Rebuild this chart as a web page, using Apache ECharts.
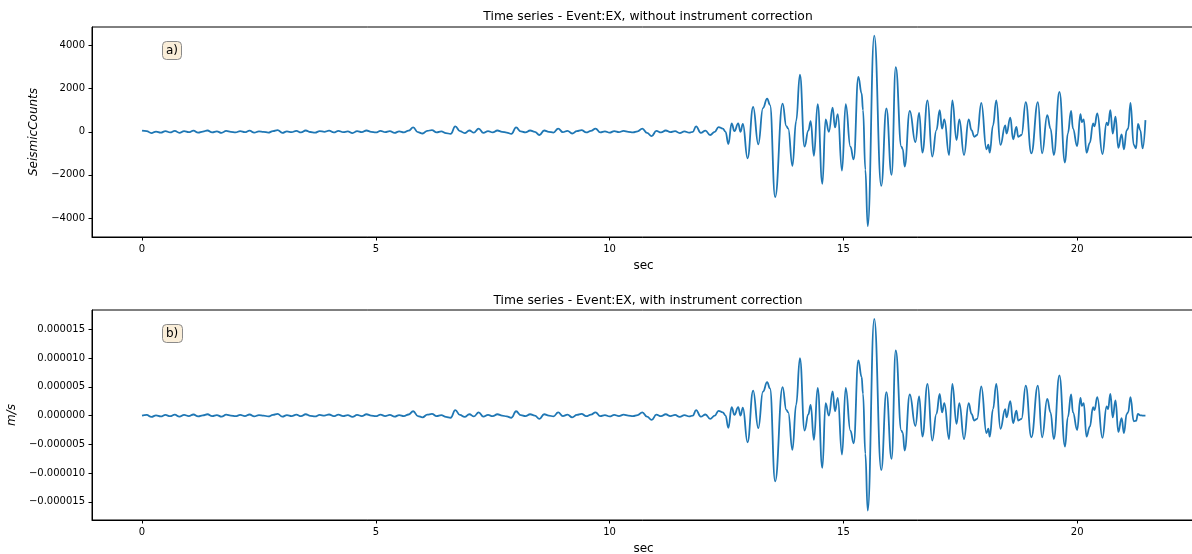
<!DOCTYPE html>
<html>
<head>
<meta charset="utf-8">
<script src="https://cdn.jsdelivr.net/npm/echarts@6/dist/echarts.min.js"></script>
<style>
html,body{margin:0;padding:0;background:#fff;}
#chart{width:1192px;height:554px;}
</style>
</head>
<body>
<div id="chart"></div>
<script>
// ---- DATA ----
const titleA = 'Time series - Event:EX, without instrument correction';
const titleB = 'Time series - Event:EX, with instrument correction';
const xTicks = [0, 5, 10, 15, 20];
const yTicksA = [-4000, -2000, 0, 2000, 4000];
const yTicksB = [-15e-6, -10e-6, -5e-6, 0, 5e-6, 10e-6, 15e-6];

const timeSec = [
  0.0,0.1,0.2,0.3,0.4,0.5,0.6,0.7,0.8,0.9,
  1.0,1.1,1.2,1.3,1.4,1.5,1.6,1.7,1.8,1.9,
  2.0,2.1,2.2,2.3,2.4,2.5,2.6,2.7,2.8,2.9,
  3.0,3.1,3.2,3.3,3.4,3.5,3.6,3.7,3.8,3.9,
  4.0,4.1,4.2,4.3,4.4,4.5,4.6,4.7,4.8,4.9,
  5.0,5.1,5.2,5.3,5.4,5.5,5.6,5.7,5.8,5.9,
  6.0,6.1,6.2,6.3,6.4,6.5,6.6,6.7,6.8,6.9,
  7.0,7.1,7.2,7.3,7.4,7.5,7.6,7.7,7.8,7.9,
  8.0,8.1,8.2,8.3,8.4,8.5,8.6,8.7,8.8,8.9,
  9.0,9.1,9.2,9.3,9.4,9.5,9.6,9.7,9.8,9.9,
  10.0,10.1,10.2,10.3,10.4,10.5,10.6,10.7,10.8,10.9,
  11.0,11.1,11.2,11.3,11.4,11.5,11.6,11.7,11.78,11.85,11.95,
  12.05,12.15,12.25,12.33,12.42,12.48,
  12.54,12.61,12.67,12.75,12.80,12.85,12.95,13.07,13.18,13.28,
  13.37,13.43,13.54,13.70,13.78,13.82,13.91,13.99,14.07,14.17,
  14.25,14.30,14.37,14.45,14.55,14.62,14.69,14.77,14.82,14.88,
  14.97,15.05,15.15,15.22,15.32,15.39,15.42,15.47,15.52,15.66,
  15.81,15.92,16.03,16.12,16.24,16.27,16.31,16.42,16.54,16.62,
  16.69,16.80,16.90,16.99,17.06,17.11,17.16,17.26,17.33,17.42,
  17.48,17.58,17.68,17.74,17.80,17.86,17.95,18.06,18.10,18.13,
  18.20,18.27,18.36,18.46,18.49,18.57,18.63,18.70,18.74,18.81,
  18.90,19.02,19.16,19.25,19.36,19.43,19.50,19.62,19.74,19.80,
  19.87,19.91,20.00,20.07,20.10,20.14,20.20,20.27,20.34,20.37,
  20.43,20.54,20.63,20.66,20.71,20.76,20.82,20.88,20.95,21.00,
  21.06,21.09,21.14,21.21,21.26,21.30,21.35,21.40,21.46
];

const seismicCounts = [
  50,30,-60,10,-40,30,-30,40,-50,30,
  -20,50,-40,10,60,-30,20,-50,40,0,
  -30,30,-20,50,-40,20,0,-40,30,80,
  -50,20,-20,40,-30,60,-10,-40,30,0,
  50,-30,40,-20,20,-60,30,-20,60,0,
  -30,40,-20,30,-50,20,-30,50,200,-20,
  -80,40,80,-30,20,-60,-100,250,30,-60,
  60,-40,150,-50,30,-30,60,0,-40,-100,
  200,20,-30,60,0,-150,60,0,-40,150,
  -20,40,-80,30,80,-30,40,150,-30,20,
  -40,30,-20,40,0,-30,20,150,-50,-200,
  40,-30,60,-20,30,-60,20,-40,0,250,-50,
  50,-150,0,220,150,0,
  -570,390,30,390,0,360,-1230,1150,-580,1100,
  1540,1250,-3030,1310,260,150,-1580,500,2650,-690,
  50,490,-1120,1280,-2410,570,0,1120,200,820,
  -1800,1280,-690,-1280,2540,1780,1000,-1770,-4380,4460,
  -2510,1080,-2000,3000,-690,-800,-1610,970,-480,880,
  -970,1460,-1150,80,1000,150,570,-1080,1460,-380,
  570,-1080,570,80,-230,-150,1340,-810,-600,-970,
  300,1460,-610,300,-80,660,-350,230,-230,-150,
  1380,-1000,1380,-1000,770,150,-1080,1850,-1430,-80,
  970,150,-660,820,450,570,-970,-510,390,250,
  850,-1030,420,300,1000,-80,700,-750,-120,-810,
  80,150,1340,-610,-770,360,80,-770,540
];

const velocityMps = [
  0,0.11e-6,-0.23e-6,0.04e-6,-0.15e-6,0.11e-6,-0.11e-6,0.15e-6,-0.19e-6,0.11e-6,
  -0.08e-6,0.19e-6,-0.15e-6,0.04e-6,0.23e-6,-0.11e-6,0.08e-6,-0.19e-6,0.15e-6,0,
  -0.11e-6,0.11e-6,-0.08e-6,0.19e-6,-0.15e-6,0.08e-6,0,-0.15e-6,0.11e-6,0.3e-6,
  -0.19e-6,0.08e-6,-0.08e-6,0.15e-6,-0.11e-6,0.23e-6,-0.04e-6,-0.15e-6,0.11e-6,0,
  0.19e-6,-0.11e-6,0.15e-6,-0.08e-6,0.08e-6,-0.23e-6,0.11e-6,-0.08e-6,0.23e-6,0,
  -0.11e-6,0.15e-6,-0.08e-6,0.11e-6,-0.19e-6,0.08e-6,-0.11e-6,0.19e-6,0.75e-6,-0.08e-6,
  -0.3e-6,0.15e-6,0.3e-6,-0.11e-6,0.08e-6,-0.23e-6,-0.38e-6,0.94e-6,0.11e-6,-0.23e-6,
  0.23e-6,-0.15e-6,0.57e-6,-0.19e-6,0.11e-6,-0.11e-6,0.23e-6,0,-0.15e-6,-0.38e-6,
  0.75e-6,0.08e-6,-0.11e-6,0.23e-6,0,-0.57e-6,0.23e-6,0,-0.15e-6,0.57e-6,
  -0.08e-6,0.15e-6,-0.3e-6,0.11e-6,0.3e-6,-0.11e-6,0.15e-6,0.57e-6,-0.11e-6,0.08e-6,
  -0.15e-6,0.11e-6,-0.08e-6,0.15e-6,0,-0.11e-6,0.08e-6,0.57e-6,-0.19e-6,-0.75e-6,
  0.15e-6,-0.11e-6,0.23e-6,-0.08e-6,0.11e-6,-0.23e-6,0.08e-6,-0.15e-6,0,0.94e-6,-0.19e-6,
  0.19e-6,-0.57e-6,0,0.83e-6,0.57e-6,0,
  -2.15e-6,1.47e-6,0.11e-6,1.47e-6,0,1.36e-6,-4.64e-6,4.34e-6,-2.19e-6,4.15e-6,
  5.81e-6,4.71e-6,-11.42e-6,4.94e-6,0.98e-6,0.57e-6,-5.96e-6,1.89e-6,9.99e-6,-2.6e-6,
  0.19e-6,1.85e-6,-4.22e-6,4.83e-6,-9.09e-6,2.15e-6,0,4.22e-6,0.75e-6,3.09e-6,
  -6.79e-6,4.83e-6,-2.6e-6,-4.83e-6,9.58e-6,6.71e-6,3.77e-6,-6.67e-6,-16.51e-6,16.81e-6,
  -9.46e-6,4.07e-6,-7.54e-6,11.31e-6,-2.6e-6,-3.02e-6,-6.07e-6,3.66e-6,-1.81e-6,3.32e-6,
  -3.66e-6,5.5e-6,-4.34e-6,0.3e-6,3.77e-6,0.57e-6,2.15e-6,-4.07e-6,5.5e-6,-1.43e-6,
  2.15e-6,-4.07e-6,2.15e-6,0.3e-6,-0.87e-6,-0.57e-6,5.05e-6,-3.05e-6,-2.26e-6,-3.66e-6,
  1.13e-6,5.5e-6,-2.3e-6,1.13e-6,-0.3e-6,2.49e-6,-1.32e-6,0.87e-6,-0.87e-6,-0.57e-6,
  5.2e-6,-3.77e-6,5.2e-6,-3.77e-6,2.9e-6,0.57e-6,-4.07e-6,6.97e-6,-5.39e-6,-0.3e-6,
  3.66e-6,0.57e-6,-2.49e-6,3.09e-6,1.7e-6,2.15e-6,-3.66e-6,-1.92e-6,1.47e-6,0.94e-6,
  3.2e-6,-3.88e-6,1.58e-6,1.13e-6,3.77e-6,-0.3e-6,2.64e-6,-2.83e-6,-0.45e-6,-3.05e-6,
  0.3e-6,0.57e-6,3.2e-6,-1.0e-6,-0.9e-6,0.3e-6,0.05e-6,0,0
];

// ---- CHART ----
if (timeSec.length !== seismicCounts.length || timeSec.length !== velocityMps.length) {
  console.error('length mismatch', timeSec.length, seismicCounts.length, velocityMps.length);
}
const FONT = 'DejaVu Sans';
const minus = s => String(s).replace('-', '\u2212');
const pairsA = timeSec.map((t, i) => [t, seismicCounts[i]]);
const pairsB = timeSec.map((t, i) => [t, velocityMps[i]]);

function xAxisFor(gi) {
  return {
    type: 'value', gridIndex: gi, min: -1.07, max: 22.52,
    name: 'sec', nameLocation: 'middle', nameGap: 23,
    nameTextStyle: { fontFamily: FONT, fontSize: 12, color: '#000' },
    axisLine: { show: true, onZero: false, lineStyle: { color: '#000', width: 1 } },
    axisTick: { show: true, length: 3.5, lineStyle: { color: '#000' }, customValues: xTicks },
    axisLabel: { show: true, margin: 7, fontFamily: FONT, fontSize: 10, color: '#000', customValues: xTicks, formatter: v => minus(v) },
    splitLine: { show: false }
  };
}

const boxStyle = {
  padding: [4, 4, 3, 4], backgroundColor: '#faeed9', borderColor: '#8a8a8a', borderWidth: 1, borderRadius: 4,
  textStyle: { fontFamily: FONT, fontSize: 12, fontWeight: 'normal', color: '#000' }
};

const option = {
  animation: false,
  backgroundColor: '#fff',
  title: [
    { text: titleA, left: 643, top: 6, textAlign: 'center', textStyle: { fontFamily: FONT, fontSize: 12.3, fontWeight: 'normal', color: '#000' } },
    { text: titleB, left: 643, top: 290, textAlign: 'center', textStyle: { fontFamily: FONT, fontSize: 12.3, fontWeight: 'normal', color: '#000' } },
    Object.assign({ text: 'a)', left: 162, top: 41 }, boxStyle),
    Object.assign({ text: 'b)', left: 162, top: 324 }, boxStyle)
  ],
  grid: [
    { left: 92, right: -3, top: 27, height: 210, show: true, borderColor: '#000', borderWidth: 1, backgroundColor: 'transparent', containLabel: false, outerBoundsMode: 'none' },
    { left: 92, right: -3, top: 310, height: 210, show: true, borderColor: '#000', borderWidth: 1, backgroundColor: 'transparent', containLabel: false, outerBoundsMode: 'none' }
  ],
  xAxis: [xAxisFor(0), xAxisFor(1)],
  yAxis: [
    {
      type: 'value', gridIndex: 0, min: -4880, max: 4860,
      name: 'SeismicCounts', nameLocation: 'middle', nameGap: 44,
      nameTextStyle: { fontFamily: FONT, fontSize: 12, fontStyle: 'italic', color: '#000' },
      axisLine: { show: true, onZero: false, lineStyle: { color: '#000', width: 1 } },
      axisTick: { show: true, length: 3.5, lineStyle: { color: '#000' }, customValues: yTicksA },
      axisLabel: { show: true, margin: 7, fontFamily: FONT, fontSize: 10, color: '#000', customValues: yTicksA, formatter: v => minus(v) },
      splitLine: { show: false }
    },
    {
      type: 'value', gridIndex: 1, min: -18.15e-6, max: 18.35e-6,
      name: 'm/s', nameLocation: 'middle', nameGap: 67,
      nameTextStyle: { fontFamily: FONT, fontSize: 12, fontStyle: 'italic', color: '#000' },
      axisLine: { show: true, onZero: false, lineStyle: { color: '#000', width: 1 } },
      axisTick: { show: true, length: 3.5, lineStyle: { color: '#000' }, customValues: yTicksB },
      axisLabel: { show: true, margin: 7, fontFamily: FONT, fontSize: 10, color: '#000', customValues: yTicksB,
        formatter: v => minus((Math.abs(v) < 1e-12 ? 0 : v).toFixed(6)) },
      splitLine: { show: false }
    }
  ],
  series: [
    { type: 'line', xAxisIndex: 0, yAxisIndex: 0, data: pairsA, showSymbol: false, smooth: 0.45, smoothMonotone: 'x',
      lineStyle: { color: '#1f77b4', width: 1.8 }, itemStyle: { color: '#1f77b4' } },
    { type: 'line', xAxisIndex: 1, yAxisIndex: 1, data: pairsB, showSymbol: false, smooth: 0.45, smoothMonotone: 'x',
      lineStyle: { color: '#1f77b4', width: 1.8 }, itemStyle: { color: '#1f77b4' } }
  ]
};

const chart = echarts.init(document.getElementById('chart'), null, { renderer: 'canvas' });
chart.setOption(option);
</script>
</body>
</html>
